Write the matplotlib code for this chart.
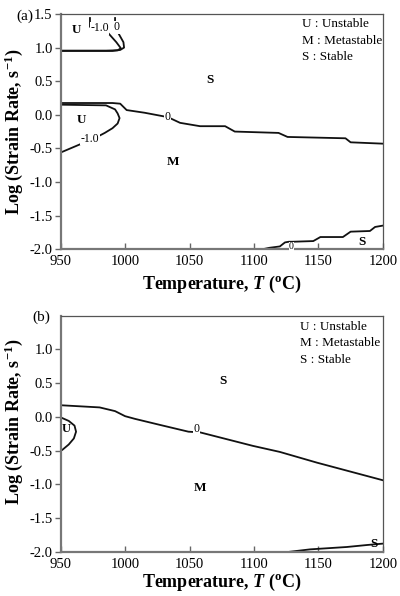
import numpy as np
import matplotlib.pyplot as plt

plt.rcParams['font.family'] = ['Liberation Serif', 'DejaVu Serif']
plt.rcParams['mathtext.fontset'] = 'custom'
plt.rcParams['mathtext.rm'] = 'Liberation Serif:bold'
plt.rcParams['mathtext.it'] = 'Liberation Serif:bold:italic'
plt.rcParams['mathtext.bf'] = 'Liberation Serif:bold'
plt.rcParams['axes.unicode_minus'] = False

# ---- panel (a) contour lines (T in deg C, log strain rate) ----
a_top_m1_T = [972.5, 972.5, 975, 986.5, 993, 996.5, 994, 985, 950]
a_top_m1_y = [1.44, 1.31, 1.27, 1.22, 1.08, 0.99, 0.96, 0.955, 0.955]
a_top_0_T = [992, 992, 995, 998.5, 999, 996, 990, 950]
a_top_0_y = [1.44, 1.32, 1.20, 1.08, 1.00, 0.965, 0.95, 0.95]

a_mid_0_T = [950, 990, 996, 1001, 1015, 1033, 1042.5, 1058, 1077.5, 1085,
             1119, 1126, 1171, 1175, 1200]
a_mid_0_y = [0.175, 0.175, 0.165, 0.07, 0.03, -0.035, -0.12, -0.17, -0.17,
             -0.25, -0.27, -0.33, -0.35, -0.41, -0.43]

a_low_m1_T = [950, 985, 992, 994, 995.5, 994, 990, 984, 979, 966, 950]
a_low_m1_y = [0.15, 0.14, 0.08, 0.02, -0.05, -0.13, -0.2, -0.27, -0.32, -0.43, -0.56]

a_bot_0_T = [1107, 1112, 1120, 1124, 1127, 1130, 1146, 1151.5, 1169, 1175, 1190, 1194, 1200]
a_bot_0_y = [-2.0, -1.98, -1.96, -1.90, -1.89, -1.89, -1.88, -1.82, -1.82, -1.74, -1.73, -1.67, -1.65]

# ---- panel (b) contour lines ----
b_zero_T = [950, 980, 992, 999.8, 1007.5, 1027, 1049, 1058, 1099, 1120, 1149, 1200]
b_zero_y = [0.172, 0.14, 0.085, 0.01, -0.03, -0.12, -0.22, -0.23, -0.43, -0.52, -0.68, -0.94]

b_u_T = [950, 956, 960.5, 961.7, 960, 956, 951, 950]
b_u_y = [-0.01, -0.06, -0.13, -0.22, -0.32, -0.41, -0.49, -0.5]

b_bot_T = [1128, 1143.6, 1172, 1188, 1200]
b_bot_y = [-2.0, -1.965, -1.93, -1.90, -1.88]

legend_lines = ['U : Unstable', 'M : Metastable', 'S : Stable']

fig = plt.figure(figsize=(4.0, 5.96), dpi=100)
ax_a = fig.add_axes([0.1525, 0.582, 0.8045, 0.3945])
ax_b = fig.add_axes([0.1525, 0.0743, 0.8045, 0.396])

line_kw = dict(color='#111111', lw=1.3)
lab_kw = dict(fontsize=8.5, ha='center', va='center',
              bbox=dict(fc='white', ec='none', pad=0.3), zorder=5)
reg_kw = dict(fontsize=9.5, fontweight='bold', ha='center', va='center')


def style(ax, top_tick, ylab_y, xlab_y):
    ax.set_xlim(950, 1200)
    ax.set_ylim(-2.0, 1.5)
    ax.set_xticks([950, 1000, 1050, 1100, 1150, 1200])
    yt = np.arange(-2.0, top_tick + 0.01, 0.5)
    ax.set_yticks(yt)
    ax.set_yticklabels(['%.1f' % v for v in yt])
    ax.tick_params(axis='x', direction='in', length=4, width=1, color='#666666',
                   labelsize=10.5, pad=4.5)
    ax.tick_params(axis='y', direction='out', length=4, width=1, color='#666666',
                   labelsize=10.5, pad=2)
    for s in ['left', 'bottom']:
        ax.spines[s].set_color('#777777')
        ax.spines[s].set_linewidth(1.6)
    for s in ['top', 'right']:
        ax.spines[s].set_color('#555555')
        ax.spines[s].set_linewidth(0.9)
    ax.set_xlabel(r'Temperature, $T$ ($^{\mathrm{o}}$C)', fontsize=13, fontweight='bold')
    ax.set_ylabel(r'Log (Strain Rate, s$^{\mathrm{-1}}$)', fontsize=13, fontweight='bold')
    ax.yaxis.set_label_coords(-0.112, ylab_y)
    ax.xaxis.set_label_coords(0.5, xlab_y)
    ax.xaxis.label.set_va('top')


# panel (a)
ax = ax_a
ax.plot(a_top_m1_T, a_top_m1_y, **line_kw)
ax.plot(a_top_0_T, a_top_0_y, **line_kw)
ax.plot(a_mid_0_T, a_mid_0_y, **line_kw)
ax.plot(a_low_m1_T, a_low_m1_y, **line_kw)
ax.plot(a_bot_0_T, a_bot_0_y, **line_kw)
ax.text(980, 1.29, '-1.0', **lab_kw)
ax.text(993.5, 1.30, '0', **lab_kw)
ax.text(1033, -0.035, '0', **lab_kw)
ax.text(972.5, -0.36, '-1.0', **lab_kw)
ax.text(1129, -1.96, '0', fontsize=7, ha='center', va='center',
        bbox=dict(fc='white', ec='none', pad=0.1), zorder=5)
ax.text(962.4, 1.26, 'U', **reg_kw)
ax.text(966, -0.08, 'U', **reg_kw)
ax.text(1066, 0.52, 'S', **reg_kw)
ax.text(1037, -0.70, 'M', **reg_kw)
ax.text(1184, -1.90, 'S', **reg_kw)
for i, t in enumerate(legend_lines):
    ax.text(1137.5, 1.35 - 0.245 * i, t, fontsize=9.5, ha='left', va='center')
style(ax, 1.5, 0.5, -0.105)
fig.text(0.04, 0.973, '(a)', fontsize=11, ha='left', va='center')

# panel (b)
ax = ax_b
ax.plot(b_zero_T, b_zero_y, **line_kw)
ax.plot(b_u_T, b_u_y, **line_kw)
ax.plot(b_bot_T, b_bot_y, **line_kw)
ax.text(1055.5, -0.185, '0', **lab_kw)
ax.text(954, -0.18, 'U', fontsize=9, fontweight='bold', ha='center', va='center')
ax.text(1076, 0.525, 'S', **reg_kw)
ax.text(1058, -1.05, 'M', **reg_kw)
ax.text(1193, -1.89, 'S', **reg_kw)
for i, t in enumerate(legend_lines):
    ax.text(1136, 1.33 - 0.24 * i, t, fontsize=9.5, ha='left', va='center')
style(ax, 1.0, 0.55, -0.086)
fig.text(0.08, 0.467, '(b)', fontsize=11, ha='left', va='center')

fig.savefig('out.png', dpi=100)
